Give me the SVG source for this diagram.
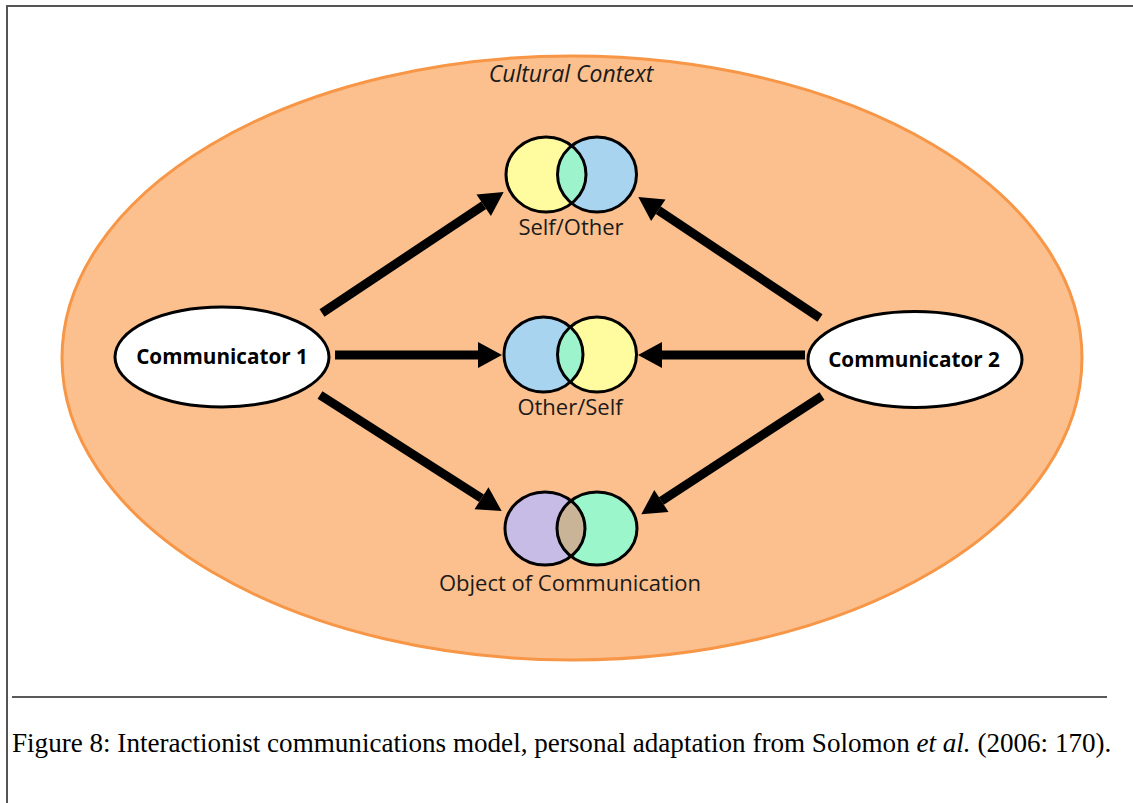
<svg xmlns="http://www.w3.org/2000/svg" width="1133" height="803" viewBox="0 0 1133 803">
<style>
.lbl{font-family:"Open Sans","Liberation Sans",sans-serif;font-size:22px;fill:#1a1a1a;text-anchor:middle}
.comm{font-family:"Open Sans","Liberation Sans",sans-serif;font-size:20.7px;font-weight:bold;fill:#000;text-anchor:middle}
.ctx{font-family:"Open Sans","Liberation Sans",sans-serif;font-size:23px;font-style:italic;fill:#1a1a1a;text-anchor:middle}
.cap{font-family:"Liberation Serif","Times New Roman",serif;font-size:27.1px;fill:#000}
.circ{stroke:#000;stroke-width:3}
.arr{stroke:#000;stroke-width:9;fill:none;marker-end:url(#ah)}
</style>
<defs>
<marker id="ah" markerUnits="userSpaceOnUse" markerWidth="30" markerHeight="30" viewBox="0 -15 26 30" refX="0" refY="0" orient="auto">
<path d="M0,-13 L24,0 L0,13 Z" fill="#000"/>
</marker>
<clipPath id="c1"><ellipse cx="546" cy="174.5" rx="40" ry="37.5"/></clipPath>
<clipPath id="c2"><ellipse cx="597" cy="354.5" rx="39.5" ry="37.5"/></clipPath>
<clipPath id="c3"><ellipse cx="545" cy="528.5" rx="40" ry="36.5"/></clipPath>
</defs>
<rect x="0" y="0" width="1133" height="803" fill="#fff"/>
<path d="M7,803 V6 H1133" fill="none" stroke="#555" stroke-width="2"/>

<g id="context">
<ellipse cx="572" cy="358" rx="510" ry="302" fill="#FBC08D" stroke="#F79646" stroke-width="3"/>
<text class="ctx" x="571" y="82">Cultural Context</text>
</g>

<g id="self-other">
<ellipse cx="546" cy="174.5" rx="40" ry="37.5" fill="#FFFB9E"/>
<ellipse cx="597" cy="174.5" rx="39.5" ry="37.5" fill="#A8D4F0"/>
<ellipse cx="597" cy="174.5" rx="39.5" ry="37.5" fill="#9CF3CC" clip-path="url(#c1)"/>
<ellipse cx="546" cy="174.5" rx="40" ry="37.5" fill="none" class="circ"/>
<ellipse cx="597" cy="174.5" rx="39.5" ry="37.5" fill="none" class="circ"/>
<text class="lbl" x="571" y="235">Self/Other</text>
</g>

<g id="other-self">
<ellipse cx="543.5" cy="354.5" rx="39.5" ry="37.5" fill="#A8D4F0"/>
<ellipse cx="597" cy="354.5" rx="39.5" ry="37.5" fill="#FFFB9E"/>
<ellipse cx="543.5" cy="354.5" rx="39.5" ry="37.5" fill="#9CF3CC" clip-path="url(#c2)"/>
<ellipse cx="543.5" cy="354.5" rx="39.5" ry="37.5" fill="none" class="circ"/>
<ellipse cx="597" cy="354.5" rx="39.5" ry="37.5" fill="none" class="circ"/>
<text class="lbl" x="570" y="415">Other/Self</text>
</g>

<g id="object">
<ellipse cx="545" cy="528.5" rx="40" ry="36.5" fill="#C6BCE6"/>
<ellipse cx="597" cy="528.5" rx="40" ry="36.5" fill="#9CF6CC"/>
<ellipse cx="597" cy="528.5" rx="40" ry="36.5" fill="#C9B497" clip-path="url(#c3)"/>
<ellipse cx="545" cy="528.5" rx="40" ry="36.5" fill="none" class="circ"/>
<ellipse cx="597" cy="528.5" rx="40" ry="36.5" fill="none" class="circ"/>
<text class="lbl" x="570" y="591">Object of Communication</text>
</g>

<g id="communicator1">
<ellipse cx="222" cy="357" rx="107" ry="50" fill="#fff" stroke="#000" stroke-width="3"/>
<text class="comm" x="222" y="364">Communicator 1</text>
</g>

<g id="communicator2">
<ellipse cx="915" cy="359.5" rx="107" ry="48" fill="#fff" stroke="#000" stroke-width="3"/>
<text class="comm" x="914" y="367">Communicator 2</text>
</g>

<g id="connectors">
<line class="arr" x1="322" y1="313" x2="483.7" y2="205.2"/>
<line class="arr" x1="335" y1="355" x2="478" y2="355"/>
<line class="arr" x1="320" y1="395" x2="481.5" y2="498.2"/>
<line class="arr" x1="820" y1="318" x2="658.3" y2="210.2"/>
<line class="arr" x1="805" y1="355" x2="662" y2="355"/>
<line class="arr" x1="822" y1="396" x2="661.4" y2="501"/>
</g>

<g id="caption">
<line x1="12" y1="697" x2="1107" y2="697" stroke="#222" stroke-width="1.5"/>
<text class="cap" x="12" y="752">Figure 8: Interactionist communications model, personal adaptation from Solomon <tspan font-style="italic">et al.</tspan> (2006: 170).</text>
</g>
</svg>
